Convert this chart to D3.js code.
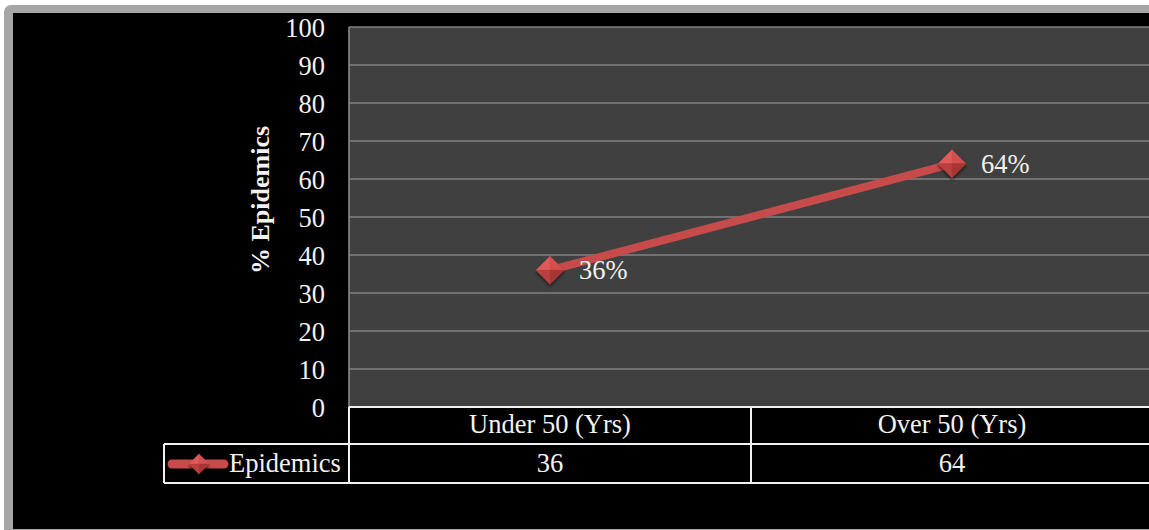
<!DOCTYPE html>
<html>
<head>
<meta charset="utf-8">
<script src="https://cdn.jsdelivr.net/npm/d3@7"></script>
<style>
  html, body { margin: 0; padding: 0; background: #ffffff; overflow: hidden; }
  svg { display: block; }
  text { font-family: "Liberation Serif", "Times New Roman", serif; fill: #f2f2f2; }
</style>
</head>
<body>
<svg id="chart" width="1149" height="530"></svg>
<script>
// ---- data ----
const categories = ["Under 50 (Yrs)", "Over 50 (Yrs)"];
const seriesName = "Epidemics";
const values = [36, 64];
const yTicks = [0, 10, 20, 30, 40, 50, 60, 70, 80, 90, 100];
const yTitle = "% Epidemics";

// ---- layout ----
const W = 1149, H = 530;
const plot = { left: 349, right: 1153, top: 27, bottom: 407 };
const rowH1 = 37, rowH2 = 39;
const legendLeft = 164;
const fontSize = 26.5;

const svg = d3.select("#chart");

// defs
const defs = svg.append("defs");
const shadow = defs.append("filter").attr("id", "shadow").attr("x", "-50%").attr("y", "-50%").attr("width", "200%").attr("height", "200%");
shadow.append("feGaussianBlur").attr("in", "SourceAlpha").attr("stdDeviation", 1.5);
shadow.append("feOffset").attr("dx", 0).attr("dy", 2).attr("result", "ob");
shadow.append("feComponentTransfer").append("feFuncA").attr("type", "linear").attr("slope", 0.6);
const merge = shadow.append("feMerge");
merge.append("feMergeNode");
merge.append("feMergeNode").attr("in", "SourceGraphic");

// outer frame
svg.append("rect").attr("x", 4).attr("y", 5).attr("width", W + 20).attr("height", H + 20).attr("rx", 7).attr("fill", "#a6a6a6");
svg.append("rect").attr("x", 13).attr("y", 13).attr("width", W + 20).attr("height", 516).attr("fill", "#000000");

// scales
const x = d3.scaleBand().domain(categories).range([plot.left, plot.right]).paddingInner(0).paddingOuter(0);
const y = d3.scaleLinear().domain([0, 100]).range([plot.bottom, plot.top]);

// plot background
svg.append("rect")
  .attr("x", plot.left).attr("y", plot.top)
  .attr("width", plot.right - plot.left).attr("height", plot.bottom - plot.top)
  .attr("fill", "#404040");

// gridlines
svg.append("g").selectAll("line").data(yTicks.filter(t => t > 0)).join("line")
  .attr("x1", plot.left).attr("x2", plot.right)
  .attr("y1", d => y(d)).attr("y2", d => y(d))
  .attr("stroke", "#828282").attr("stroke-width", 1.6);

// plot left border
svg.append("line").attr("x1", plot.left).attr("x2", plot.left)
  .attr("y1", plot.top).attr("y2", plot.bottom)
  .attr("stroke", "#8a8a8a").attr("stroke-width", 1.6);

// y axis
const yAxis = d3.axisLeft(y).tickValues(yTicks).tickSize(0).tickPadding(24).tickFormat(d3.format("d"));
const yg = svg.append("g").attr("transform", `translate(${plot.left},0)`).call(yAxis);
yg.select(".domain").remove();
yg.selectAll("text")
  .attr("font-size", fontSize)
  .attr("font-family", "Liberation Serif, Times New Roman, serif")
  .attr("fill", "#f2f2f2")
  .attr("dy", "0.34em");

// y title
svg.append("text")
  .attr("transform", `translate(269,200) rotate(-90)`)
  .attr("text-anchor", "middle")
  .attr("font-size", 26)
  .attr("font-weight", "bold")
  .text(yTitle);

// line
const lineColor = "#c84b4b";
const line = d3.line().x((d, i) => x(categories[i]) + x.bandwidth() / 2).y(d => y(d));
svg.append("path").datum(values)
  .attr("d", line)
  .attr("fill", "none")
  .attr("stroke", lineColor)
  .attr("stroke-width", 8)
  .attr("stroke-linecap", "butt");

// diamond marker drawer (faceted)
function drawDiamond(g, cx, cy, r) {
  const mg = g.append("g").attr("transform", `translate(${cx},${cy})`).attr("filter", "url(#shadow)");
  const top = [0, -r], right = [r, 0], bottom = [0, r], left = [-r, 0], c = [0, 0];
  const facets = [
    { pts: [left, top, c], fill: "#e05a5a" },
    { pts: [top, right, c], fill: "#d44f4f" },
    { pts: [right, bottom, c], fill: "#a83636" },
    { pts: [bottom, left, c], fill: "#bb3f3f" }
  ];
  mg.selectAll("polygon").data(facets).join("polygon")
    .attr("points", d => d.pts.map(p => p.join(",")).join(" "))
    .attr("fill", d => d.fill)
    .attr("stroke", d => d.fill).attr("stroke-width", 0.5);
}

const pts = svg.append("g");
values.forEach((v, i) => {
  drawDiamond(pts, x(categories[i]) + x.bandwidth() / 2, y(v), 14);
});

// data labels
svg.append("g").selectAll("text").data(values).join("text")
  .attr("x", (d, i) => x(categories[i]) + x.bandwidth() / 2 + 29)
  .attr("y", d => y(d))
  .attr("dy", "0.34em")
  .attr("font-size", fontSize)
  .text(d => d + "%");

// data table
const tbl = svg.append("g");
const tableStroke = "#f2f2f2";
const r1Top = plot.bottom, r1Bot = plot.bottom + rowH1, r2Bot = r1Bot + rowH2;
// horizontal lines
tbl.append("line").attr("x1", plot.left).attr("x2", plot.right + 10).attr("y1", r1Top).attr("y2", r1Top);
tbl.append("line").attr("x1", legendLeft).attr("x2", plot.right + 10).attr("y1", r1Bot).attr("y2", r1Bot);
tbl.append("line").attr("x1", legendLeft).attr("x2", plot.right + 10).attr("y1", r2Bot).attr("y2", r2Bot);
// vertical lines
tbl.append("line").attr("x1", legendLeft).attr("x2", legendLeft).attr("y1", r1Bot).attr("y2", r2Bot);
tbl.append("line").attr("x1", plot.left).attr("x2", plot.left).attr("y1", r1Top).attr("y2", r2Bot);
categories.slice(1).forEach(c => {
  tbl.append("line").attr("x1", x(c)).attr("x2", x(c)).attr("y1", r1Top).attr("y2", r2Bot);
});
tbl.selectAll("line").attr("stroke", tableStroke).attr("stroke-width", 2);

// category labels
tbl.append("g").selectAll("text").data(categories).join("text")
  .attr("x", d => x(d) + x.bandwidth() / 2)
  .attr("y", r1Top + 26)
  .attr("text-anchor", "middle")
  .attr("font-size", fontSize)
  .text(d => d);

// value row
tbl.append("g").selectAll("text").data(values).join("text")
  .attr("x", (d, i) => x(categories[i]) + x.bandwidth() / 2)
  .attr("y", r1Bot + 27.5)
  .attr("text-anchor", "middle")
  .attr("font-size", fontSize)
  .text(d => d3.format("d")(d));

// legend key
const legY = (r1Bot + r2Bot) / 2 + 0.5;
tbl.append("line")
  .attr("x1", legendLeft + 8).attr("x2", legendLeft + 60)
  .attr("y1", legY).attr("y2", legY)
  .attr("stroke", lineColor).attr("stroke-width", 9).attr("stroke-linecap", "round");
drawDiamond(tbl, legendLeft + 35, legY, 10);
tbl.append("text")
  .attr("x", legendLeft + 65)
  .attr("y", r1Bot + 27.5)
  .attr("font-size", fontSize)
  .text(seriesName);
</script>
</body>
</html>
